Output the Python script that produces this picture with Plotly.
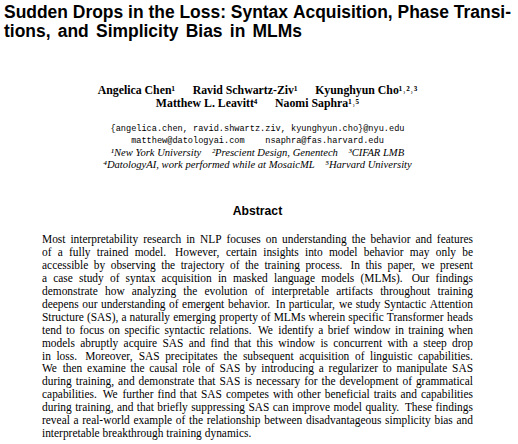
import plotly.graph_objects as go

# ---------------- text content ----------------
title_lines = [
    "Sudden Drops in the Loss: Syntax Acquisition, Phase Transi-",
    "tions, and Simplicity Bias in MLMs",
]
author_lines = [
    ["Angelica Chen\u00b9", "Ravid Schwartz-Ziv\u00b9", "Kyunghyun Cho\u00b9\u02d2\u00b2\u02d2\u00b3"],
    ["Matthew L. Leavitt\u2074", "Naomi Saphra\u00b9\u02d2\u2075"],
]
email_lines = [
    ["{angelica.chen, ravid.shwartz.ziv, kyunghyun.cho}@nyu.edu"],
    ["matthew@datologyai.com", "nsaphra@fas.harvard.edu"],
]
affiliation_lines = [
    ["\u00b9New York University", "\u00b2Prescient Design, Genentech", "\u00b3CIFAR LMB"],
    ["\u2074DatologyAI, work performed while at MosaicML", "\u2075Harvard University"],
]
heading = "Abstract"
body_lines = [
    "Most interpretability research in NLP focuses on understanding the behavior and features",
    "of a fully trained model. However, certain insights into model behavior may only be",
    "accessible by observing the trajectory of the training process. In this paper, we present",
    "a case study of syntax acquisition in masked language models (MLMs). Our findings",
    "demonstrate how analyzing the evolution of interpretable artifacts throughout training",
    "deepens our understanding of emergent behavior. In particular, we study Syntactic Attention",
    "Structure (SAS), a naturally emerging property of MLMs wherein specific Transformer heads",
    "tend to focus on specific syntactic relations. We identify a brief window in training when",
    "models abruptly acquire SAS and find that this window is concurrent with a steep drop",
    "in loss. Moreover, SAS precipitates the subsequent acquisition of linguistic capabilities.",
    "We then examine the causal role of SAS by introducing a regularizer to manipulate SAS",
    "during training, and demonstrate that SAS is necessary for the development of grammatical",
    "capabilities. We further find that SAS competes with other beneficial traits and capabilities",
    "during training, and that briefly suppressing SAS can improve model quality. These findings",
    "reveal a real-world example of the relationship between disadvantageous simplicity bias and",
    "interpretable breakthrough training dynamics.",
]

# ---------------- layout constants ----------------
W, H = 518, 444
BODY_L, BODY_R = 42.0, 473.0
TITLE_L = 4.0
TITLE_R = [512.0, 302.0]
CENTER_X = 257.5
SERIF = "Liberation Serif, Times New Roman, serif"
SANS = "Liberation Sans, Arial, sans-serif"
MONO = "Liberation Mono, Courier New, monospace"

# font metrics (per 1000 em) used only to space words for justification
TIMES = {' ': 250, '!': 333, '"': 408, '%': 833, '&': 778, "'": 333, '(': 333, ')': 333,
         ',': 250, '-': 333, '.': 250, '/': 278, ':': 278, ';': 278, '?': 444, '@': 921,
         'A': 722, 'B': 667, 'C': 667, 'D': 722, 'E': 611, 'F': 556, 'G': 722, 'H': 722,
         'I': 333, 'J': 389, 'K': 722, 'L': 611, 'M': 889, 'N': 722, 'O': 722, 'P': 556,
         'Q': 722, 'R': 667, 'S': 556, 'T': 611, 'U': 722, 'V': 722, 'W': 944, 'X': 722,
         'Y': 722, 'Z': 611, 'a': 444, 'b': 500, 'c': 444, 'd': 500, 'e': 444, 'f': 333,
         'g': 500, 'h': 500, 'i': 278, 'j': 278, 'k': 500, 'l': 278, 'm': 778, 'n': 500,
         'o': 500, 'p': 500, 'q': 500, 'r': 333, 's': 389, 't': 278, 'u': 500, 'v': 500,
         'w': 722, 'x': 500, 'y': 500, 'z': 444}
HELVB = {' ': 278, '!': 333, ',': 278, '-': 333, '.': 278, ':': 333,
         'A': 722, 'B': 722, 'C': 722, 'D': 722, 'E': 667, 'F': 611, 'G': 778, 'H': 722,
         'I': 278, 'J': 556, 'K': 722, 'L': 611, 'M': 833, 'N': 722, 'O': 778, 'P': 667,
         'Q': 778, 'R': 722, 'S': 667, 'T': 611, 'U': 722, 'V': 667, 'W': 944, 'X': 667,
         'Y': 667, 'Z': 611, 'a': 556, 'b': 611, 'c': 556, 'd': 611, 'e': 556, 'f': 333,
         'g': 611, 'h': 611, 'i': 278, 'j': 278, 'k': 556, 'l': 278, 'm': 889, 'n': 611,
         'o': 611, 'p': 611, 'q': 611, 'r': 389, 's': 556, 't': 333, 'u': 611, 'v': 556,
         'w': 778, 'x': 556, 'y': 556, 'z': 500}


def units(s, table):
    return sum(table.get(c, 500) for c in s) / 1000.0


def gap_weight(word):
    return 1.45 if word.endswith('.') else 1.0


def y_for(baseline, fs):
    # scatter text with "middle" position puts its baseline at y + 0.25*fontsize
    return baseline - 0.25 * fs


def word_positions(words, fs, table, left, right, justify):
    widths = [units(w, table) * fs for w in words]
    weights = [gap_weight(w) for w in words[:-1]]
    if justify and len(words) > 1:
        unit_gap = (right - left - sum(widths)) / sum(weights)
    else:
        unit_gap = table[' '] / 1000.0 * fs
    xs, x = [], left
    for i, w in enumerate(words):
        xs.append(x)
        if i < len(words) - 1:
            x += widths[i] + unit_gap * weights[i]
    return xs


fig = go.Figure()


def text_trace(xs, ys, texts, fs, family, position, weight="normal", style="normal"):
    fig.add_trace(go.Scatter(
        x=xs, y=ys, text=texts, mode="text", textposition=position,
        textfont=dict(size=fs, family=family, color="#000000", weight=weight, style=style),
        hoverinfo="skip", cliponaxis=False, showlegend=False))


# ---------------- title ----------------
title_fs = (TITLE_R[0] - TITLE_L) / units(title_lines[0], HELVB)
title_base = [17.5, 37.5]
tx, ty, tt = [], [], []
for i, line in enumerate(title_lines):
    words = line.split()
    xs = word_positions(words, title_fs, HELVB, TITLE_L, TITLE_R[i], justify=True)
    tx += xs
    ty += [y_for(title_base[i], title_fs)] * len(words)
    tt += words
text_trace(tx, ty, tt, title_fs, SANS, "middle right", weight="bold")

# ---------------- authors / emails / affiliations ----------------
AUTH_FS, MAIL_FS, AFF_FS, HEAD_FS = 11.8, 8.6, 10.6, 12.2
author_base = [94.0, 107.0]
text_trace([CENTER_X] * 2, [y_for(b, AUTH_FS) for b in author_base],
           [("\u00a0" * 6).join(n) for n in author_lines], AUTH_FS, SERIF,
           "middle center", weight="bold")

email_base = [130.8, 142.8]
text_trace([CENTER_X] * 2, [y_for(b, MAIL_FS) for b in email_base],
           [("\u00a0" * 4).join(p) for p in email_lines], MAIL_FS, MONO, "middle center")

aff_base = [155.6, 167.6]
text_trace([CENTER_X] * 2, [y_for(b, AFF_FS) for b in aff_base],
           [("\u00a0" * 4).join(p) for p in affiliation_lines], AFF_FS, SERIF,
           "middle center", style="italic")

# ---------------- abstract heading ----------------
text_trace([CENTER_X], [y_for(215.2, HEAD_FS)], [heading], HEAD_FS, SANS,
           "middle center", weight="bold")

# ---------------- body ----------------
natural = [units(l, TIMES) for l in body_lines[:-1]]
body_fs = min(11.8, min((BODY_R - BODY_L) / n for n in natural) * 0.995)
BODY_B0, BODY_DY = 243.2, 12.93
bx, by, bt = [], [], []
for i, line in enumerate(body_lines):
    words = line.split()
    xs = word_positions(words, body_fs, TIMES, BODY_L, BODY_R,
                        justify=(i < len(body_lines) - 1))
    bx += xs
    by += [y_for(BODY_B0 + BODY_DY * i, body_fs)] * len(words)
    bt += words
text_trace(bx, by, bt, body_fs, SERIF, "middle right")

fig.update_layout(
    width=W, height=H, autosize=False,
    margin=dict(l=0, r=0, t=0, b=0, pad=0),
    paper_bgcolor="#ffffff", plot_bgcolor="#ffffff",
    showlegend=False,
    xaxis=dict(range=[0, W], visible=False, fixedrange=True),
    yaxis=dict(range=[H, 0], visible=False, fixedrange=True),
)
fig.write_html("out.html", config={"displayModeBar": False},
               post_script="document.body.style.margin='0';")
